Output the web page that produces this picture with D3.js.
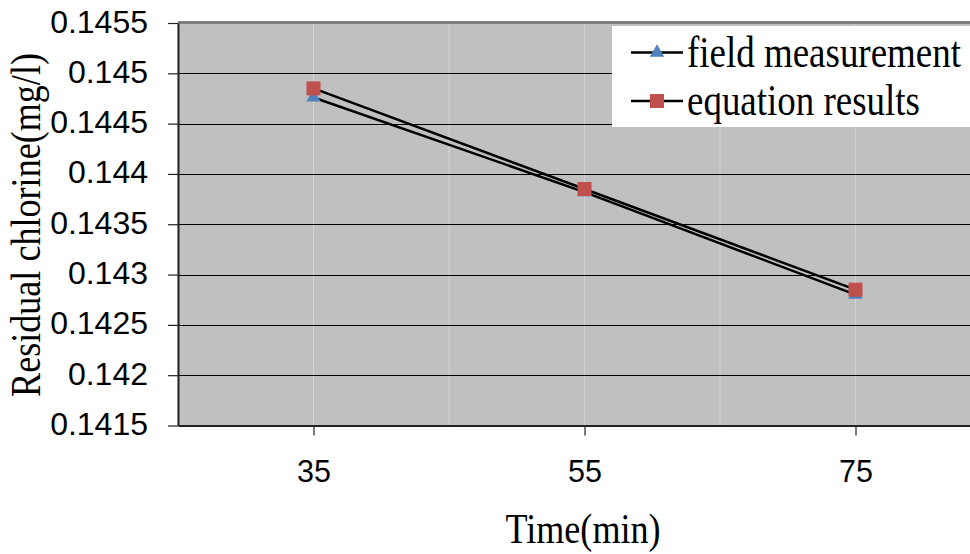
<!DOCTYPE html>
<html>
<head>
<meta charset="utf-8">
<script src="https://cdn.jsdelivr.net/npm/d3@7"></script>
<style>
  html, body { margin: 0; padding: 0; background: #ffffff; }
  svg { display: block; }
</style>
</head>
<body>
<svg id="chart" width="970" height="554"></svg>
<script>
// ---- data ----
const categories = ["35", "55", "75"];
const fieldMeasurement = [0.14476, 0.14382, 0.14280];
const equationResults = [0.14485, 0.14385, 0.14285];
const yTicks = [0.1415, 0.142, 0.1425, 0.143, 0.1435, 0.144, 0.1445, 0.145, 0.1455];
const seriesNames = ["field measurement", "equation results"];
const xTitle = "Time(min)";
const yTitle = "Residual chlorine(mg/l)";

// ---- layout ----
const W = 970, H = 554;
const plot = { left: 178, right: 991, top: 23, bottom: 425.5 };
const svg = d3.select("#chart");
const SERIF = "'Liberation Serif','Times New Roman',Times,serif";
const SANS = "'Liberation Sans',Arial,Helvetica,sans-serif";
const squeeze = 0.84;

const x = d3.scalePoint().domain(categories).range([plot.left, plot.right]).padding(0.5);
const y = d3.scaleLinear().domain([0.1415, 0.1455]).range([plot.bottom, plot.top]);

// plot background
svg.append("rect")
  .attr("x", plot.left).attr("y", plot.top)
  .attr("width", plot.right - plot.left).attr("height", plot.bottom - plot.top)
  .attr("fill", "#c0c0c0");

// light vertical gridlines (half-category spacing)
const step = x.step();
const vLines = d3.range(0, categories.length * 2 + 1).map(i => plot.left + i * step / 2);
svg.append("g").selectAll("line").data(vLines).join("line")
  .attr("x1", d => d).attr("x2", d => d)
  .attr("y1", plot.top).attr("y2", plot.bottom)
  .attr("stroke", "#d2d2d2").attr("stroke-width", 1);

// horizontal gridlines
svg.append("g").selectAll("line").data(yTicks.slice(1)).join("line")
  .attr("x1", plot.left).attr("x2", plot.right)
  .attr("y1", d => Math.round(y(d)) + 0.5).attr("y2", d => Math.round(y(d)) + 0.5)
  .attr("stroke", "#000").attr("stroke-width", 1);

// top border
svg.append("line")
  .attr("x1", plot.left).attr("x2", plot.right)
  .attr("y1", plot.top - 0.5).attr("y2", plot.top - 0.5)
  .attr("stroke", "#808080").attr("stroke-width", 3);

// Y axis
const yAxis = d3.axisLeft(y).tickValues(yTicks).tickSize(10).tickSizeOuter(0).tickFormat(d => String(+d.toFixed(4)));
const gy = svg.append("g").attr("transform", `translate(${plot.left},0)`).call(yAxis);
gy.select(".domain").attr("stroke", "#222").attr("stroke-width", 2);
gy.selectAll(".tick line").attr("stroke", "#222").attr("stroke-width", 1.2);
gy.selectAll(".tick text")
  .attr("x", -30).attr("dy", "9px")
  .attr("font-family", SANS).attr("font-size", 32).attr("fill", "#000");

// X axis
const xAxis = d3.axisBottom(x).tickSize(10).tickSizeOuter(0);
const gx = svg.append("g").attr("transform", `translate(0,${plot.bottom})`).call(xAxis);
gx.select(".domain").attr("stroke", "#222").attr("stroke-width", 2);
gx.selectAll(".tick line").attr("stroke", "#222").attr("stroke-width", 1.2);
gx.selectAll(".tick text")
  .attr("y", 56).attr("dy", 0)
  .attr("font-family", SANS).attr("font-size", 30.5).attr("fill", "#000");

// series lines
const lineGen = d3.line().x((d, i) => x(categories[i])).y(d => y(d));
svg.append("path").datum(fieldMeasurement).attr("d", lineGen)
  .attr("fill", "none").attr("stroke", "#000").attr("stroke-width", 2.5);
svg.append("path").datum(equationResults).attr("d", lineGen)
  .attr("fill", "none").attr("stroke", "#000").attr("stroke-width", 2.5);

// markers
const tri = d3.symbol().type(d3.symbolTriangle).size(90);
svg.append("g").selectAll("path").data(fieldMeasurement).join("path")
  .attr("d", tri)
  .attr("transform", (d, i) => `translate(${x(categories[i])},${y(d)})`)
  .attr("fill", "#4f81bd");
svg.append("g").selectAll("rect").data(equationResults).join("rect")
  .attr("x", (d, i) => x(categories[i]) - 7).attr("y", d => y(d) - 7)
  .attr("width", 14).attr("height", 14)
  .attr("fill", "#c0504d");

// legend
const lg = svg.append("g");
lg.append("rect").attr("x", 612).attr("y", 26).attr("width", 380).attr("height", 101).attr("fill", "#fff");
const rows = [52.5, 101];
seriesNames.forEach((name, i) => {
  const ry = rows[i];
  lg.append("line").attr("x1", 631).attr("x2", 683).attr("y1", ry).attr("y2", ry)
    .attr("stroke", "#000").attr("stroke-width", 2.5);
  if (i === 0) {
    lg.append("path").attr("d", tri).attr("transform", `translate(657,${ry})`).attr("fill", "#4f81bd");
  } else {
    lg.append("rect").attr("x", 650).attr("y", ry - 7).attr("width", 14).attr("height", 14).attr("fill", "#c0504d");
  }
  lg.append("text")
    .attr("transform", `translate(687,${ry + 14}) scale(${squeeze},1)`)
    .attr("font-family", SERIF).attr("font-size", 44).attr("fill", "#000")
    .text(name);
});

// axis titles
svg.append("text")
  .attr("transform", `translate(583,543) scale(${squeeze},1)`)
  .attr("text-anchor", "middle")
  .attr("font-family", SERIF).attr("font-size", 43).attr("fill", "#000")
  .text(xTitle);
svg.append("text")
  .attr("transform", `translate(40,225) rotate(-90) scale(${squeeze},1)`)
  .attr("text-anchor", "middle")
  .attr("font-family", SERIF).attr("font-size", 43).attr("fill", "#000")
  .text(yTitle);
</script>
</body>
</html>
